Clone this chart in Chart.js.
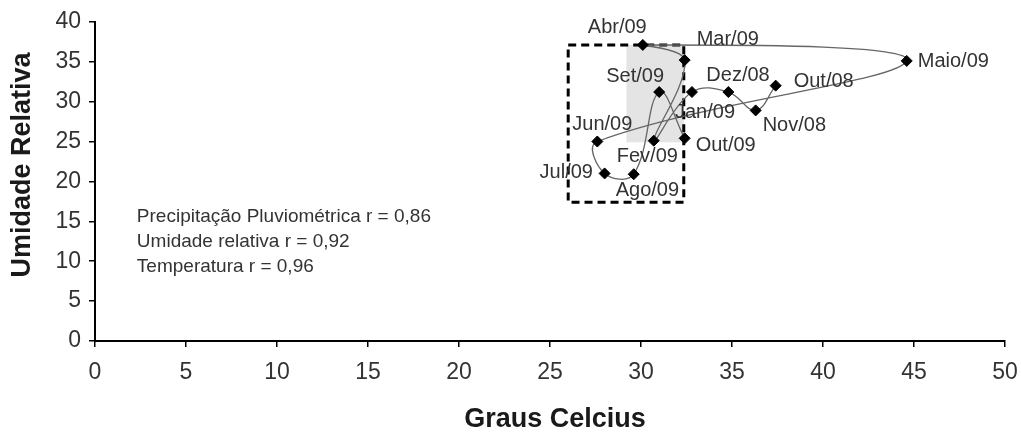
<!DOCTYPE html>
<html lang="pt">
<head>
<meta charset="UTF-8" />
<title>Umidade Relativa x Graus Celcius</title>
<script src="https://cdn.jsdelivr.net/npm/chart.js@4.4.1/dist/chart.umd.min.js"></script>
<style>
  body { margin: 0; background: #fff; overflow: hidden; }
  #wrap { width: 1021px; height: 433px; position: relative; }
</style>
</head>
<body>
<div id="wrap"><canvas id="chart"></canvas></div>
<script>
// months in chronological order (the curve follows this order)
const months = ["Out/08", "Nov/08", "Dez/08", "Jan/09", "Fev/09", "Mar/09", "Abr/09",
                "Maio/09", "Jun/09", "Jul/09", "Ago/09", "Set/09", "Out/09"];
const temperatura = [37.4, 36.3, 34.8, 32.8, 30.7, 32.4, 30.1, 44.6, 27.6, 28.0, 29.6, 31.0, 32.4];
const umidade     = [32.0, 28.9, 31.2, 31.2, 25.1, 35.2, 37.1, 35.1, 25.0, 21.0, 20.9, 31.2, 25.4];

// highlighted regions (graus, umidade)
const dashedBoxX = [26.0, 32.35];
const dashedBoxY = [17.4, 37.1];
const shadedBoxX = [29.2, 32.35];
const shadedBoxY = [24.9, 37.1];

const correlacoes = ["Precipitação Pluviométrica r = 0,86", "Umidade relativa r = 0,92", "Temperatura r = 0,96"];
const xTitle = "Graus Celcius";
const yTitle = "Umidade Relativa";

// label placement relative to each point, in px: [left dx, middle dy]
const labelOffsets = [[18, -4], [7, 15], [-22, -17], [-17, 20], [-37, 16], [12, -21], [-55, -17],
                      [11, 1], [-25, -17], [-65, -1], [-18, 16], [-53, -16], [11, 7]];

const points = temperatura.map((t, i) => ({ x: t, y: umidade[i] }));
const font = "'Liberation Sans', Arial, sans-serif";

const overlay = {
    id: "overlay",
    beforeDatasetsDraw(chart) {
        const { ctx, scales: { x, y } } = chart;
        ctx.save();
        // gray shading
        ctx.fillStyle = "#e4e4e4";
        const sx0 = x.getPixelForValue(shadedBoxX[0]), sx1 = x.getPixelForValue(shadedBoxX[1]);
        const sy0 = y.getPixelForValue(shadedBoxY[1]), sy1 = y.getPixelForValue(shadedBoxY[0]);
        ctx.fillRect(sx0, sy0, sx1 - sx0, sy1 - sy0);
        // dashed box
        const dx0 = x.getPixelForValue(dashedBoxX[0]), dx1 = x.getPixelForValue(dashedBoxX[1]);
        const dy0 = y.getPixelForValue(dashedBoxY[1]), dy1 = y.getPixelForValue(dashedBoxY[0]);
        ctx.strokeStyle = "#000";
        ctx.lineWidth = 3;
        ctx.setLineDash([8, 5]);
        ctx.strokeRect(dx0, dy0, dx1 - dx0, dy1 - dy0);
        ctx.restore();
    },
    afterDatasetsDraw(chart) {
        const { ctx, scales: { x, y } } = chart;
        const meta = chart.getDatasetMeta(0);
        ctx.save();
        ctx.fillStyle = "#333";
        ctx.font = "20px " + font;
        ctx.textAlign = "left";
        ctx.textBaseline = "middle";
        meta.data.forEach((pt, i) => {
            const [ox, oy] = labelOffsets[i];
            ctx.fillText(months[i], pt.x + ox, pt.y + oy);
        });
        // correlation notes
        ctx.font = "19px " + font;
        const tx = x.getPixelForValue(2.3);
        const ty = y.getPixelForValue(15.6);
        correlacoes.forEach((s, i) => ctx.fillText(s, tx, ty + i * 25));

        // axis titles
        ctx.fillStyle = "#1a1a1a";
        ctx.font = "bold 27px " + font;
        ctx.textAlign = "center";
        ctx.fillText(xTitle, 555, 420);
        ctx.translate(23, 165);
        ctx.rotate(-Math.PI / 2);
        ctx.fillText(yTitle, 0, 0);
        ctx.restore();
    }
};

new Chart(document.getElementById("chart"), {
    type: "scatter",
    data: {
        datasets: [{
            data: points,
            showLine: true,
            tension: 0.4,
            borderColor: "#666",
            borderWidth: 1.3,
            pointStyle: "rectRot",
            pointRadius: 5.5,
            pointBackgroundColor: "#000",
            pointBorderColor: "#000",
            pointBorderWidth: 1
        }]
    },
    options: {
        responsive: true,
        maintainAspectRatio: false,
        animation: false,
        layout: { padding: { top: 20, right: 16, left: 0, bottom: 0 } },
        plugins: {
            legend: { display: false },
            tooltip: { enabled: false }
        },
        scales: {
            x: {
                type: "linear",
                min: 0,
                max: 50,
                afterFit(scale) {
                    scale.height = 92;
                    scale.paddingLeft = 0;
                    scale.paddingRight = 0;
                },
                ticks: { stepSize: 5, color: "#333", padding: 12, font: { family: font, size: 23 } },
                grid: { drawOnChartArea: false, drawTicks: true, tickLength: 6, color: "#000", lineWidth: 1.5 },
                border: { color: "#000", width: 2 }
            },
            y: {
                min: 0,
                max: 40,
                afterFit(scale) { scale.width = 95; },
                ticks: { stepSize: 5, color: "#333", padding: 8, font: { family: font, size: 23 } },
                grid: { drawOnChartArea: false, drawTicks: true, tickLength: 6, color: "#000", lineWidth: 1.5 },
                border: { color: "#000", width: 2 }
            }
        }
    },
    plugins: [overlay]
});
</script>
</body>
</html>
